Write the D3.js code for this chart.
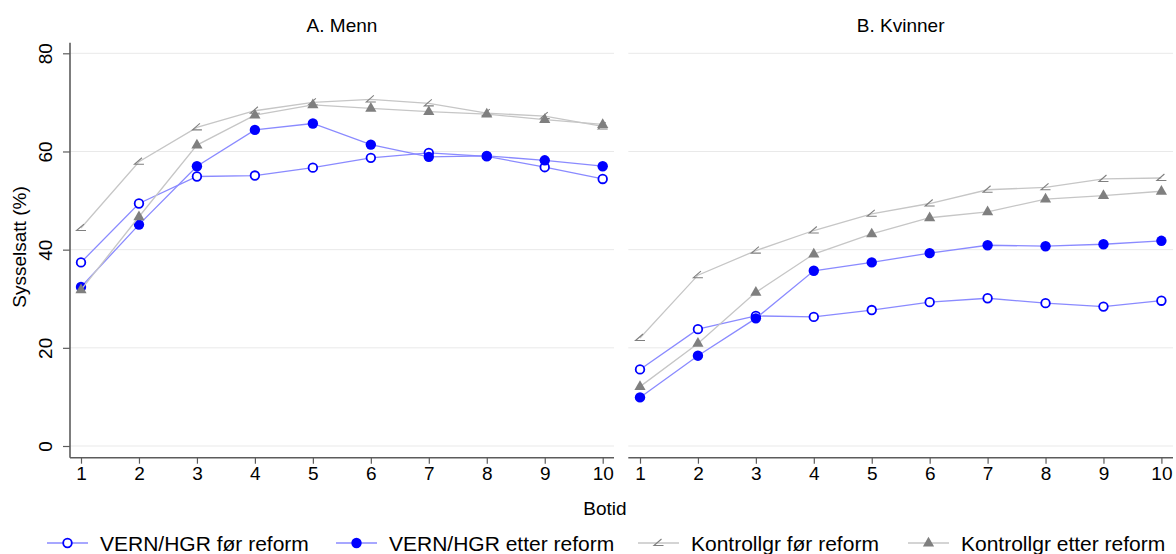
<!DOCTYPE html>
<html>
<head>
<meta charset="utf-8">
<script src="https://cdn.jsdelivr.net/npm/d3@7"></script>
<style>
  body { margin: 0; background: #fff; }
  svg { display: block; font-family: "Liberation Sans", Arial, sans-serif; }
</style>
</head>
<body>
<script>
// Data
var botid = [1, 2, 3, 4, 5, 6, 7, 8, 9, 10];
var yTicks = [0, 20, 40, 60, 80];
var panelTitles = ["A. Menn", "B. Kvinner"];
var seriesNames = ["VERN/HGR før reform", "VERN/HGR etter reform", "Kontrollgr før reform", "Kontrollgr etter reform"];

// A. Menn
var mennVernFor    = [37.4, 49.4, 54.9, 55.1, 56.7, 58.7, 59.7, 59.0, 56.8, 54.4];
var mennVernEtter  = [32.4, 45.1, 57.0, 64.4, 65.7, 61.4, 58.9, 59.1, 58.2, 57.0];
var mennKontrFor   = [44.4, 57.9, 64.9, 68.3, 70.0, 70.6, 69.8, 67.8, 67.2, 65.1];
var mennKontrEtter = [31.8, 46.7, 61.3, 67.4, 69.5, 68.8, 68.1, 67.6, 66.5, 65.5];

// B. Kvinner
var kvinVernFor    = [15.6, 23.8, 26.5, 26.3, 27.7, 29.3, 30.1, 29.1, 28.4, 29.6];
var kvinVernEtter  = [9.9, 18.4, 26.0, 35.7, 37.4, 39.3, 40.9, 40.7, 41.1, 41.8];
var kvinKontrFor   = [22.0, 34.8, 39.8, 43.9, 47.3, 49.4, 52.2, 52.7, 54.4, 54.6];
var kvinKontrEtter = [12.1, 20.9, 31.3, 39.1, 43.2, 46.5, 47.7, 50.3, 51.0, 51.9];

document.addEventListener("DOMContentLoaded", function(){
  var width = 1176, height = 554;
  var fs = 19;
  var blueLine = "#8a8aff", blue = "#0000ff", grayLine = "#c6c6c6", gray = "#7f7f7f";
  var axisCol = "#5c5c5c", gridCol = "#e9e9e9";

  var svg = d3.select("body").append("svg")
    .attr("width", width).attr("height", height);

  var y = d3.scaleLinear().domain([0, 80]).range([446, 53.3]);

  var panels = [
    { title: panelTitles[0], x0: 70, x1: 614, x: d3.scaleLinear().domain([1, 10]).range([81, 602.7]), yAxis: true,
      series: [mennVernFor, mennVernEtter, mennKontrFor, mennKontrEtter] },
    { title: panelTitles[1], x0: 628.3, x1: 1173, x: d3.scaleLinear().domain([1, 10]).range([640, 1161.4]), yAxis: false,
      series: [kvinVernFor, kvinVernEtter, kvinKontrFor, kvinKontrEtter] }
  ];

  var styles = [
    { line: blueLine, marker: "open" },
    { line: blueLine, marker: "filled" },
    { line: grayLine, marker: "angle" },
    { line: grayLine, marker: "tri" }
  ];

  function drawMarker(g, type, cx, cy) {
    if (type == "open") {
      g.append("circle").attr("cx", cx).attr("cy", cy).attr("r", 4.3)
        .attr("fill", "#fff").attr("stroke", blue).attr("stroke-width", 1.8);
    } else if (type == "filled") {
      g.append("circle").attr("cx", cx).attr("cy", cy).attr("r", 5.2).attr("fill", blue);
    } else if (type == "angle") {
      g.append("path")
        .attr("d", "M" + (cx + 3) + "," + (cy - 4) + "L" + (cx - 4.5) + "," + (cy + 2.5) + "L" + (cx + 5) + "," + (cy + 2.5))
        .attr("fill", "none").attr("stroke", gray).attr("stroke-width", 1.1);
    } else {
      g.append("path")
        .attr("d", "M" + cx + "," + (cy - 6.3) + "L" + (cx + 5.6) + "," + (cy + 3.4) + "L" + (cx - 5.6) + "," + (cy + 3.4) + "Z")
        .attr("fill", gray);
    }
  }

  panels.forEach(function(p){
    var g = svg.append("g");
    var x = p.x;

    // grid
    g.selectAll(".grid").data(yTicks).enter().append("line")
      .attr("x1", p.x0).attr("x2", p.x1)
      .attr("y1", function(d){ return y(d); }).attr("y2", function(d){ return y(d); })
      .attr("stroke", gridCol).attr("stroke-width", 1);

    // x axis
    var xa = g.append("g").attr("transform", "translate(0,457.7)")
      .call(d3.axisBottom(x).tickValues(botid).tickSize(6).tickPadding(3).tickFormat(d3.format("d")));
    xa.select(".domain").attr("d", "M" + p.x0 + ",0H" + p.x1).attr("stroke", axisCol).attr("stroke-width", 1.6);
    xa.selectAll(".tick line").attr("stroke", axisCol).attr("stroke-width", 1.2);
    xa.selectAll(".tick text").attr("font-size", fs).attr("font-family", "Liberation Sans, Arial, sans-serif").attr("fill", "#000");

    // y axis (left panel only)
    if (p.yAxis) {
      var ya = g.append("g").attr("transform", "translate(70,0)")
        .call(d3.axisLeft(y).tickValues(yTicks).tickSize(7).tickPadding(0));
      ya.select(".domain").attr("d", "M0,42.7V457.7").attr("stroke", axisCol).attr("stroke-width", 1.6);
      ya.selectAll(".tick line").attr("stroke", axisCol).attr("stroke-width", 1.2);
      ya.selectAll(".tick text")
        .attr("font-size", fs).attr("font-family", "Liberation Sans, Arial, sans-serif").attr("fill", "#000")
        .attr("x", 0).attr("dy", 0)
        .attr("transform", "translate(-18,0) rotate(-90)")
        .attr("text-anchor", "middle").attr("dominant-baseline", "auto")
        .attr("y", 0);
    }

    // title
    g.append("text").attr("x", (p.x0 + p.x1) / 2).attr("y", 31.5)
      .attr("text-anchor", "middle").attr("font-size", fs).text(p.title);

    // series
    var line = d3.line().x(function(d, i){ return x(botid[i]); }).y(function(d){ return y(d); });
    p.series.forEach(function(s, k){
      g.append("path").datum(s).attr("d", line)
        .attr("fill", "none").attr("stroke", styles[k].line).attr("stroke-width", 1.3);
      s.forEach(function(v, i){ drawMarker(g, styles[k].marker, x(botid[i]), y(v)); });
    });
  });

  // axis titles
  svg.append("text").attr("transform", "translate(26,247) rotate(-90)")
    .attr("text-anchor", "middle").attr("font-size", fs).text("Sysselsatt (%)");
  svg.append("text").attr("x", 605).attr("y", 515)
    .attr("text-anchor", "middle").attr("font-size", fs).text("Botid");

  // legend
  var legX = [47, 336, 638, 908];
  var leg = svg.append("g");
  seriesNames.forEach(function(name, k){
    var lx = legX[k];
    leg.append("line").attr("x1", lx).attr("x2", lx + 41).attr("y1", 543).attr("y2", 543)
      .attr("stroke", styles[k].line).attr("stroke-width", 1.3);
    drawMarker(leg, styles[k].marker, lx + 20.5, 543);
    leg.append("text").attr("x", lx + 53).attr("y", 550.5).attr("font-size", 21).text(name);
  });
});
</script>
</body>
</html>
